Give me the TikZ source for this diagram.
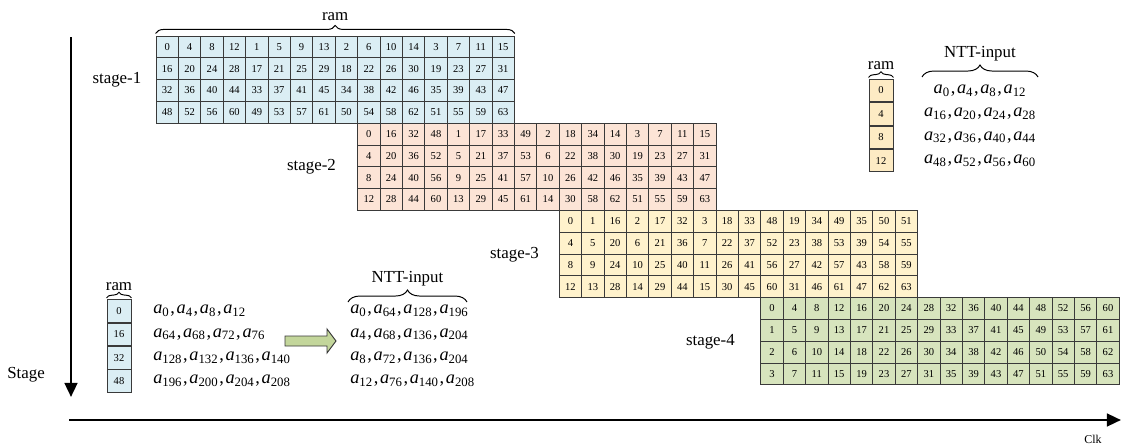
\documentclass[tikz,border=0pt]{standalone}
\usepackage{fontspec}
\setmainfont{Liberation Serif}
\usetikzlibrary{positioning,decorations.pathreplacing,arrows.meta}

\definecolor{stageblue}{HTML}{DBEEF4}
\definecolor{stagepeach}{HTML}{FCE4D6}
\definecolor{stageyellow}{HTML}{FFF2CC}
\definecolor{stagegreen}{HTML}{D7E4BD}
\definecolor{ramyellow}{HTML}{FDEBC4}
\definecolor{shiftgreen}{HTML}{C3D69B}
\definecolor{gridline}{HTML}{3A3A3A}

% one coefficient a_i, and a row of four of them
\newcommand{\ca}[1]{\textit{a}\textsubscript{#1}}
\newcommand{\alist}[4]{\ca{#1}\kern.6pt,\kern1.2pt\ca{#2}\kern.6pt,\kern1.2pt\ca{#3}\kern.6pt,\kern1.2pt\ca{#4}}

% 4x16 block of ram slots: name, fill, left, top, rows
\newcommand{\stagegrid}[5]{%
  \foreach \row [count=\ri] in {#5}
    \foreach \v [count=\ci] in \row
      \node[slot, fill=#2] (#1-\ri-\ci) at ({#3+22.4*(\ci-0.5)}, {#4+21.8*(\ri-0.5)}) {\v};
}

\tikzset{
  slot/.style={draw=gridline, line width=0.6pt, minimum width=0.56cm,
    minimum height=0.545cm, inner sep=0pt, font=\fontsize{7.5}{8}\selectfont},
  ramslot/.style={slot, minimum width=0.6cm, minimum height=0.5625cm},
  lbl/.style={font=\fontsize{12}{14}\selectfont, inner sep=1pt},
  formula/.style={font=\fontsize{13}{15}\selectfont, inner sep=0pt},
  bracket/.style={decorate, decoration={brace, amplitude=#1}, line width=0.7pt},
  bracket/.default=6pt,
  axis/.style={line width=1.8pt, -{Triangle[length=10pt, width=9pt]}},
}

\begin{document}
\begin{tikzpicture}[x=0.025cm, y=-0.025cm]
  \useasboundingbox (0,0) rectangle (1121,447);

  % the four stages
  \stagegrid{s1}{stageblue}{156}{36}{%
    {0,4,8,12,1,5,9,13,2,6,10,14,3,7,11,15},
    {16,20,24,28,17,21,25,29,18,22,26,30,19,23,27,31},
    {32,36,40,44,33,37,41,45,34,38,42,46,35,39,43,47},
    {48,52,56,60,49,53,57,61,50,54,58,62,51,55,59,63}}
  \stagegrid{s2}{stagepeach}{357.6}{123.2}{%
    {0,16,32,48,1,17,33,49,2,18,34,14,3,7,11,15},
    {4,20,36,52,5,21,37,53,6,22,38,30,19,23,27,31},
    {8,24,40,56,9,25,41,57,10,26,42,46,35,39,43,47},
    {12,28,44,60,13,29,45,61,14,30,58,62,51,55,59,63}}
  \stagegrid{s3}{stageyellow}{559.2}{210.4}{%
    {0,1,16,2,17,32,3,18,33,48,19,34,49,35,50,51},
    {4,5,20,6,21,36,7,22,37,52,23,38,53,39,54,55},
    {8,9,24,10,25,40,11,26,41,56,27,42,57,43,58,59},
    {12,13,28,14,29,44,15,30,45,60,31,46,61,47,62,63}}
  \stagegrid{s4}{stagegreen}{760.8}{297.6}{%
    {0,4,8,12,16,20,24,28,32,36,40,44,48,52,56,60},
    {1,5,9,13,17,21,25,29,33,37,41,45,49,53,57,61},
    {2,6,10,14,18,22,26,30,34,38,42,46,50,54,58,62},
    {3,7,11,15,19,23,27,31,35,39,43,47,51,55,59,63}}

  \node[lbl, left=9pt of s1-2-1.south west] (st1) {stage-1};
  \node[lbl, left=14pt of s2-2-1.south west] (st2) {stage-2};
  \node[lbl, left=13pt of s3-2-1.south west] (st3) {stage-3};
  \node[lbl, left=17pt of s4-2-1.south west] (st4) {stage-4};

  \draw[bracket=5.7pt] ([yshift=1.5pt]s1-1-1.north west) -- ([yshift=1.5pt]s1-1-16.north east)
    node[lbl, midway, above=8pt] (ramtop) {ram};

  % one ram word and the coefficients it holds
  \node[ramslot, fill=ramyellow] (tr1) at (881,90.5) {0};
  \node[ramslot, fill=ramyellow, below=0pt of tr1] (tr2) {4};
  \node[ramslot, fill=ramyellow, below=0pt of tr2] (tr3) {8};
  \node[ramslot, fill=ramyellow, below=0pt of tr3] (tr4) {12};
  \draw[bracket=4pt] ([yshift=1pt]tr1.north west) -- ([yshift=1pt]tr1.north east)
    node[lbl, midway, above=4pt] (ramword) {ram};

  \node[formula] (tf1) at (980,0 |- tr1) {\alist{0}{4}{8}{12}};
  \node[formula] (tf2) at (980,0 |- tr2) {\alist{16}{20}{24}{28}};
  \node[formula] (tf3) at (980,0 |- tr3) {\alist{32}{36}{40}{44}};
  \node[formula] (tf4) at (980,0 |- tr4) {\alist{48}{52}{56}{60}};
  \draw[bracket=8.5pt] (922,77) -- (1038,77)
    node[lbl, midway, above=10pt] (ntttop) {NTT-input};

  % bottom: reordering of the first word
  \node[ramslot, fill=stageblue] (bl1) at (119,311) {0};
  \node[ramslot, fill=stageblue, below=0pt of bl1] (bl2) {16};
  \node[ramslot, fill=stageblue, below=0pt of bl2] (bl3) {32};
  \node[ramslot, fill=stageblue, below=0pt of bl3] (bl4) {48};
  \draw[bracket=4pt] ([yshift=1pt]bl1.north west) -- ([yshift=1pt]bl1.north east)
    node[lbl, midway, above=4pt] (ramlow) {ram};

  \node[formula, anchor=west] (bf1) at (153,0 |- bl1) {\alist{0}{4}{8}{12}};
  \node[formula, anchor=west] (bf2) at (153,0 |- bl2) {\alist{64}{68}{72}{76}};
  \node[formula, anchor=west] (bf3) at (153,0 |- bl3) {\alist{128}{132}{136}{140}};
  \node[formula, anchor=west] (bf4) at (153,0 |- bl4) {\alist{196}{200}{204}{208}};

  \draw[fill=shiftgreen, draw=gridline, line width=0.7pt]
    (285,336) -- (327,336) -- (327,329) -- (336,341) -- (327,353) -- (327,346) -- (285,346) -- cycle;

  \node[formula, anchor=west] (nf1) at (350,0 |- bl1) {\alist{0}{64}{128}{196}};
  \node[formula, anchor=west] (nf2) at (350,0 |- bl2) {\alist{4}{68}{136}{204}};
  \node[formula, anchor=west] (nf3) at (350,0 |- bl3) {\alist{8}{72}{136}{204}};
  \node[formula, anchor=west] (nf4) at (350,0 |- bl4) {\alist{12}{76}{140}{208}};
  \draw[bracket=8.5pt] (348,302) -- (467,302)
    node[lbl, midway, above=10pt] (nttlow) {NTT-input};

  % axes
  \coordinate (stagetop) at (71,37);
  \coordinate (stagebot) at (71,397);
  \draw[axis] (stagetop) -- (stagebot);
  \node[lbl] (stagelbl) at (26,375) {Stage};

  \coordinate (clkstart) at (69,420);
  \coordinate (clkend) at (1121,420);
  \draw[axis] (clkstart) -- (clkend);
  \node[font=\fontsize{8.5}{10}\selectfont] (clklbl) at (1093,439) {Clk};
\end{tikzpicture}
\end{document}
